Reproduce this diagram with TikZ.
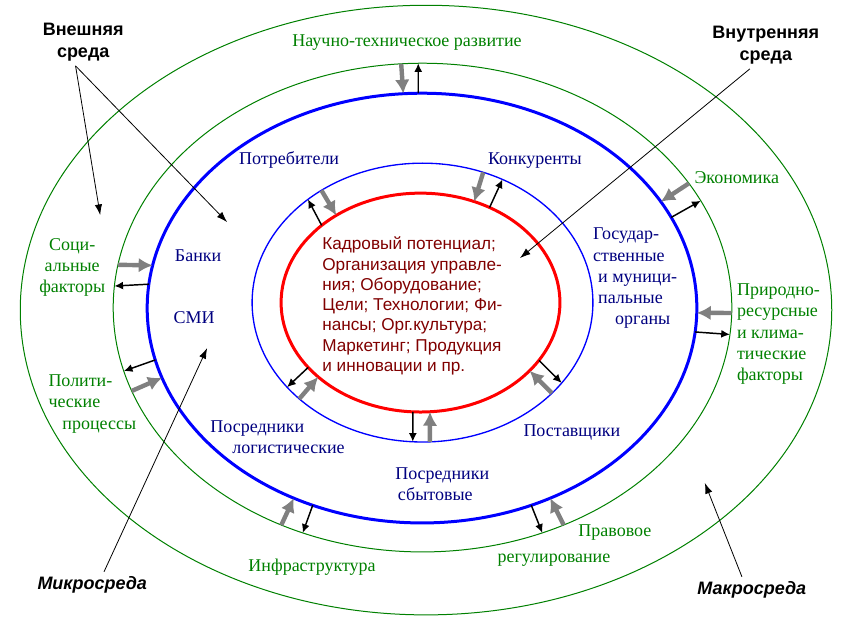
\documentclass[tikz,border=0pt]{standalone}
\usepackage{fontspec}
\setmainfont{Liberation Serif}
\setsansfont{Liberation Sans}
\usepackage{tikz}
\usetikzlibrary{shapes.geometric, arrows.meta}
\definecolor{leaf}{RGB}{0, 128, 0}
\definecolor{navy}{RGB}{0, 0, 128}
\definecolor{wine}{RGB}{128, 0, 0}
\definecolor{flow}{RGB}{128, 128, 128}

\tikzset{
  ring/.style={draw, ellipse, inner sep=0, outer sep=0},
  macrotext/.style={text=leaf, inner sep=0, font=\fontsize{13.5}{15.8}\selectfont},
  microtext/.style={text=navy, inner sep=0, font=\fontsize{13.5}{15.8}\selectfont},
  coretext/.style={text=wine, inner sep=0, align=left, font=\sffamily\fontsize{12.9}{15.2}\selectfont},
  headtext/.style={align=center, font=\sffamily\bfseries\fontsize{13.5}{16.3}\selectfont},
  pointer/.style={->, >={Latex[length=8pt, width=5.5pt]}, line width=0.6pt},
  inflow/.style={->, >={Latex[length=10.5pt, width=11pt]}, line width=3.3pt, draw=flow, color=flow},
  outflow/.style={->, >={Latex[length=6.5pt, width=6pt]}, line width=1.1pt}
}

\begin{document}
\begin{tikzpicture}[x=0.75pt, y=-0.75pt]
  \draw[white] (0, 0) rectangle (860, 620);

  % rings
  \node[ring, draw=leaf, line width=0.75pt, minimum width=609pt, minimum height=457.5pt] (macro) at (426, 310) {};
  \node[ring, draw=leaf, line width=0.75pt, minimum width=464.25pt, minimum height=366.75pt] (envir) at (422.5, 307.5) {};
  \node[ring, draw=blue, line width=2.25pt, minimum width=412.5pt, minimum height=322.5pt] (micro) at (422, 308) {};
  \node[ring, draw=blue, line width=1pt, minimum width=255.75pt, minimum height=209.25pt] (inner) at (422.5, 302.5) {};
  \node[ring, draw=red, line width=2.25pt, minimum width=209.25pt, minimum height=164.25pt] (core) at (420.5, 302.5) {};

  % labels
  \node[headtext] (vnesh) at (83, 42) {Внешняя\\среда};
  \node[headtext] (vnutr) at (766, 45) {Внутренняя\\среда};
  \node[headtext, font=\sffamily\bfseries\itshape\fontsize{13.5}{16.3}\selectfont] (mikro) at (92, 585) {Микросреда};
  \node[headtext, font=\sffamily\bfseries\itshape\fontsize{13.5}{16.3}\selectfont] (makro) at (752, 590) {Макросреда};

  \node[macrotext] (nauch) at (407, 42) {Научно-техническое развитие};
  \node[macrotext] (econ) at (737, 177) {Экономика};
  \node[macrotext, align=center] (social) at (72, 267) {Соци-\\альные\\факторы};
  \node[macrotext, align=left, anchor=west] (prirod) at (737, 334) {Природно-\\ресурсные\\и клима-\\тические\\факторы};
  \node[macrotext, align=left, anchor=west] (polit) at (48, 404) {Полити-\\ческие\\\hspace*{10.5pt}процессы};
  \node[macrotext] (infra) at (312, 567) {Инфраструктура};
  \node[macrotext] (prav) at (615, 533) {Правовое};
  \node[macrotext] (regul) at (554, 560) {регулирование};

  \node[microtext] (potreb) at (289, 160) {Потребители};
  \node[microtext] (konk) at (535, 160) {Конкуренты};
  \node[microtext] (banki) at (198, 256) {Банки};
  \node[microtext] (smi) at (194, 318) {СМИ};
  \node[microtext, align=left, anchor=west] (gos) at (593, 278) {Государ-\\ственные\\\hspace*{3.75pt}и муници-\\\hspace*{3.75pt}пальные\\\hspace*{16.5pt}органы};
  \node[microtext, align=left, anchor=west] (logist) at (210, 437) {Посредники\\\hspace*{16.5pt}логистические};
  \node[microtext] (postav) at (572, 432) {Поставщики};
  \node[microtext, align=left, anchor=west] (sbyt) at (395, 484) {Посредники\\\hspace*{2pt}сбытовые};

  \node[coretext, anchor=west] (resources) at (322, 306) {Кадровый потенциал;\\Организация управле-\\ния; Оборудование;\\Цели; Технологии; Фи-\\нансы; Орг.культура;\\Маркетинг; Продукция\\и инновации и пр.};

  % pointer ends
  \coordinate (vneshA) at (100, 215);
  \coordinate (vneshB) at (227, 222);
  \coordinate (vnutrA) at (520, 258);
  \coordinate (mikroA) at (207, 348);
  \coordinate (makroA) at (705, 483);

  \draw[pointer] (vnesh.252) -- (vneshA);
  \draw[pointer] (vnesh.252) -- (vneshB);
  \draw[pointer] (vnutr.236) -- (vnutrA);
  \draw[pointer] (mikro.48) -- (mikroA);
  \draw[pointer] (makro.127) -- (makroA);

  % flows between macro and micro environment
  \foreach \a/\b in {95/95, 25/24, -1/-1, -57/-56, -123/-124, 196/195, 172/171} {
    \draw[inflow] (envir.\a) -- (micro.\b);
  }
  \foreach \a/\b in {91/91, 20/21, -5/-5, -61/-62, -119/-118, 191/192, 175/176} {
    \draw[outflow] (micro.\a) -- (envir.\b);
  }

  % flows between micro environment and organisation
  \foreach \a/\b in {132/134, 65/62, -35/-32, -87/-85, 218/216} {
    \draw[inflow] (inner.\a) -- (core.\b);
  }
  \foreach \a/\b in {142/138, 54/57, -26/-30, -94/-94, 210/212} {
    \draw[outflow] (core.\a) -- (inner.\b);
  }
\end{tikzpicture}
\end{document}
